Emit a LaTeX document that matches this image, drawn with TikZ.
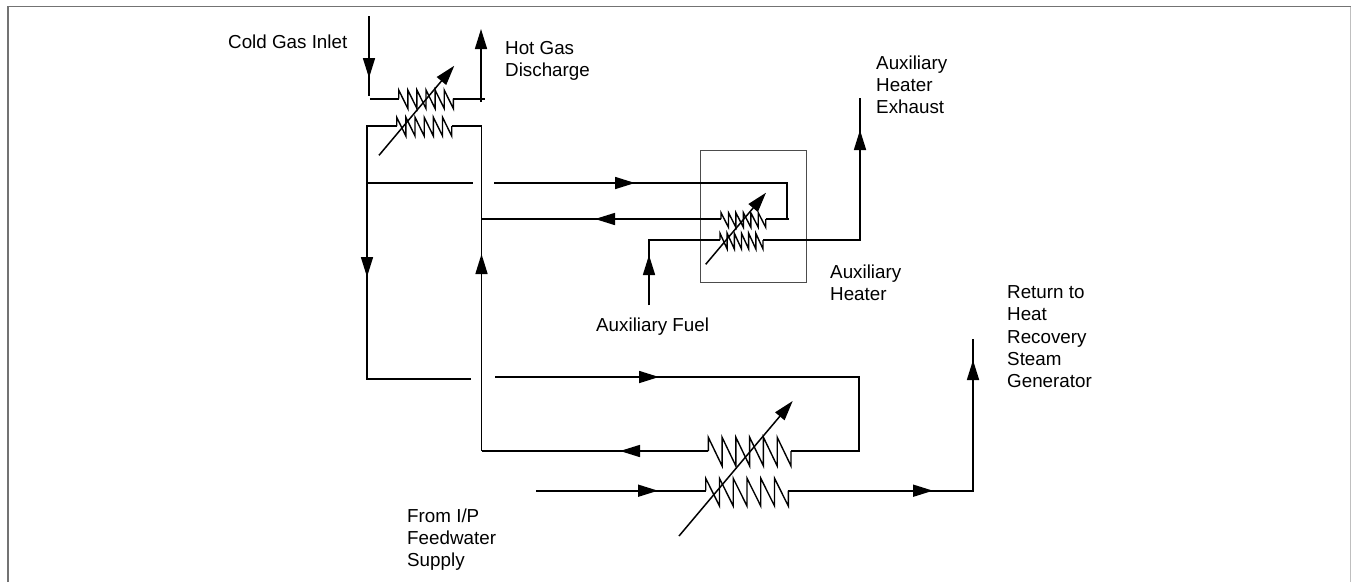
\documentclass[tikz,border=0pt]{standalone}
\usepackage{fontspec}
\setmainfont{Liberation Sans}
\usetikzlibrary{arrows.meta}
\newcommand{\coil}[6]{% name, x0, x1, ytop, ybot, yline
  \coordinate (#1L) at (#2,#6);
  \coordinate (#1R) at (#3,#6);
  \draw[coilline] (#1L) -- (#2,#4)
  \foreach \k in {1,...,6}{
    -- ({#2+(#3-#2)*\k/6},#5)
    \ifnum\k<6 -- ({#2+(#3-#2)*\k/6},#4)\fi
  } -- (#1R);
}
\tikzset{
  flow/.style={line width=1.6pt,black,line cap=butt},
  coilline/.style={line width=1.4pt,black,line join=miter},
  tipped/.style={flow,-{Triangle[length=20pt,width=12pt]}},
  adjust/.style={line width=1.5pt,black,-{Triangle[length=20pt,width=12pt]}},
  lbl/.style={anchor=north west,align=left,inner sep=0pt,font=\fontsize{18.8pt}{22.3pt}\selectfont}
}
\begin{document}
\begin{tikzpicture}[x=1pt,y=-1pt]
\useasboundingbox (0,0) rectangle (1351,582);
\fill[white] (0,0) rectangle (1351,582);
% frame
\coordinate (fbl) at (8,582); \coordinate (ftl) at (8,6.5); \coordinate (ftr) at (1350.5,6.5); \coordinate (fbr) at (1350.5,582);
\draw[line width=1.6pt,black!55] (fbl) -- (ftl) -- (ftr);
\draw[line width=1pt,black!25] (ftr) -- (fbr);
% coils
\coil{a}{398.7}{453.3}{90}{108.5}{98.7}
\coil{b}{396.7}{451.7}{117.3}{136}{126}
\coil{c}{721}{765.7}{212.7}{227.3}{219}
\coil{d}{720}{763}{233.3}{249}{240.2}
\coil{e}{708.3}{791}{437.3}{466}{451}
\coil{f}{705.7}{788.3}{478.3}{506}{490.7}
% adjusters
\coordinate (a1) at (379,155.3); \coordinate (a2) at (454.3,65.7);
\coordinate (c1) at (705.7,264.3); \coordinate (c2) at (766,192.7);
\coordinate (e1) at (679,536); \coordinate (e2) at (792.7,401);
\draw[adjust] (a1) -- (a2);
\draw[adjust] (c1) -- (c2);
\draw[adjust] (e1) -- (e2);
% box
\node[draw=black!70,line width=0.9pt,minimum width=105.5pt,minimum height=131.7pt,inner sep=0pt,anchor=north west] (box) at (700.3,150.3) {};
% top exchanger connections
\coordinate (cold0) at (369,16); \coordinate (coldt) at (369,78); \coordinate (cold1) at (369,96);
\draw[flow] (cold0) -- (cold1); \draw[tipped] (cold0) -- (coldt);
\coordinate (al) at (370,98.7); \draw[flow] (al) -- (aL);
\coordinate (ar) at (485,98.7); \draw[flow] (aR) -- (ar);
\coordinate (hot0) at (481,102); \coordinate (hott) at (481,29);
\draw[tipped] (hot0) -- (hott);
\coordinate (bl) at (367,126); \coordinate (br) at (481.5,126);
\coordinate (ld) at (367,277); \coordinate (lb) at (367,379); \coordinate (lbe) at (471,379);
\draw[flow] (bL) -- (bl) -- (lb) -- (lbe);
\draw[tipped] (bl) -- (ld);
\coordinate (rb) at (481.5,451); \coordinate (ru) at (481.5,254);
\draw[flow] (bR) -- (br) -- (rb);
\draw[tipped] (rb) -- (ru);
% tie lines
\coordinate (t1) at (366,183); \coordinate (t2) at (473,183);
\draw[flow] (t1) -- (t2);
\coordinate (t3) at (494,183); \coordinate (t4) at (635,183); \coordinate (t5) at (787,183); \coordinate (t6) at (787,219); \coordinate (t7) at (789,219);
\draw[flow] (t3) -- (t5) -- (t6); \draw[tipped] (t3) -- (t4);
\draw[flow] (cR) -- (t7);
\coordinate (u1) at (481.5,219); \coordinate (u2) at (595,219);
\draw[flow] (cL) -- (u1);
\draw[tipped] (cL) -- (u2);
% aux fuel
\coordinate (f0) at (649,305); \coordinate (f1) at (649,255); \coordinate (f2) at (649,240.2);
\draw[flow] (f0) -- (f2) -- (dL); \draw[tipped] (f0) -- (f1);
% aux exhaust
\coordinate (x1) at (860,240.2); \coordinate (x2) at (860,130); \coordinate (x3) at (860,98);
\draw[flow] (dR) -- (x1) -- (x3);
\draw[tipped] (x1) -- (x2);
% bottom loop
\coordinate (v1) at (495,377); \coordinate (v2) at (659,377); \coordinate (v3) at (859,377); \coordinate (v4) at (859,451);
\draw[flow] (v1) -- (v3) -- (v4) -- (eR); \draw[tipped] (v1) -- (v2);
\coordinate (w1) at (620,451);
\draw[flow] (eL) -- (rb); \draw[tipped] (eL) -- (w1);
% feedwater
\coordinate (y1) at (536,490.7); \coordinate (y2) at (658,490.7);
\draw[flow] (y1) -- (fL); \draw[tipped] (y1) -- (y2);
\coordinate (y3) at (933,490.7); \coordinate (y4) at (973,490.7); \coordinate (y5) at (973,360); \coordinate (y6) at (973,339);
\draw[flow] (fR) -- (y4) -- (y6);
\draw[tipped] (fR) -- (y3);
\draw[tipped] (y4) -- (y5);
% labels
\node[lbl] (n1) at (228,34.3) {Cold Gas Inlet};
\node[lbl] (n2) at (505,41.3) {Hot Gas\\Discharge};
\node[lbl] (n3) at (876,55.3) {Auxiliary\\Heater\\Exhaust};
\node[lbl] (n4) at (830,264.3) {Auxiliary\\Heater};
\node[lbl] (n5) at (596,317.3) {Auxiliary Fuel};
\node[lbl] (n6) at (1007,285.3) {Return to\\Heat\\Recovery\\Steam\\Generator};
\node[lbl] (n7) at (407,508.3) {From I/P\\Feedwater\\Supply};
\end{tikzpicture}
\end{document}
